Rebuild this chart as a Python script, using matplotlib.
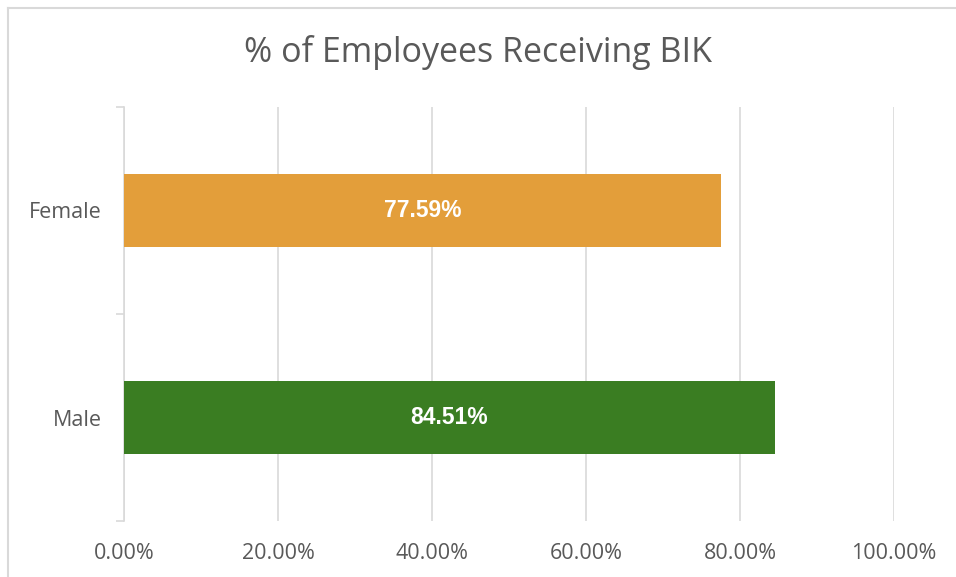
import matplotlib.pyplot as plt
from matplotlib.lines import Line2D
from matplotlib.ticker import FuncFormatter

plt.rcParams['font.family'] = ['Open Sans', 'DejaVu Sans']

categories = ['Male', 'Female']
values = [84.51, 77.59]
colors = ['#3A7D22', '#E39E3A']

fig = plt.figure(figsize=(9.56, 5.77), dpi=100)
ax = fig.add_axes([124 / 956, 1 - 521 / 577, (894 - 124) / 956, (521 - 107) / 577])

bars = ax.barh(range(len(categories)), values, height=0.35, color=colors, zorder=3)
for bar, v in zip(bars, values):
    ax.text(bar.get_width() / 2, bar.get_y() + bar.get_height() / 2, f'{v:.2f}%',
            ha='center', va='center', color='white', fontsize=16.5, fontweight='bold',
            family=['Liberation Sans', 'DejaVu Sans'], zorder=4)

ax.set_xlim(0, 100)
ax.set_ylim(-0.5, 1.5)
ax.set_xticks(range(0, 101, 20))
ax.xaxis.set_major_formatter(FuncFormatter(lambda x, _: f'{x:.2f}%'))
ax.set_yticks(range(len(categories)))
ax.set_yticklabels(categories)
ax.set_yticks([-0.5, 0.5, 1.5], minor=True)

ax.grid(axis='x', color='#D9D9D9', linewidth=1.2, zorder=0)
for s in ['top', 'right', 'bottom']:
    ax.spines[s].set_visible(False)
ax.spines['left'].set_color('#D9D9D9')
ax.spines['left'].set_linewidth(1.2)

ax.tick_params(axis='x', length=0, pad=16, labelsize=15.5, labelcolor='#595959')
ax.tick_params(axis='y', which='major', length=0, pad=16, labelsize=15.5, labelcolor='#595959')
ax.tick_params(axis='y', which='minor', length=6, width=1.2, color='#D9D9D9')

fig.text(0.5, 1 - 52 / 577, '% of Employees Receiving BIK', ha='center', va='center',
         fontsize=24.5, color='#595959')

# chart border (only top and left edges show in the crop)
fig.lines.append(Line2D([7.5 / 956, 1], [1 - 7.5 / 577, 1 - 7.5 / 577], transform=fig.transFigure,
                        color='#D9D9D9', linewidth=1.5))
fig.lines.append(Line2D([7.5 / 956, 7.5 / 956], [0, 1 - 7.5 / 577], transform=fig.transFigure,
                        color='#D9D9D9', linewidth=1.5))

fig.savefig('out.png', dpi=100)
